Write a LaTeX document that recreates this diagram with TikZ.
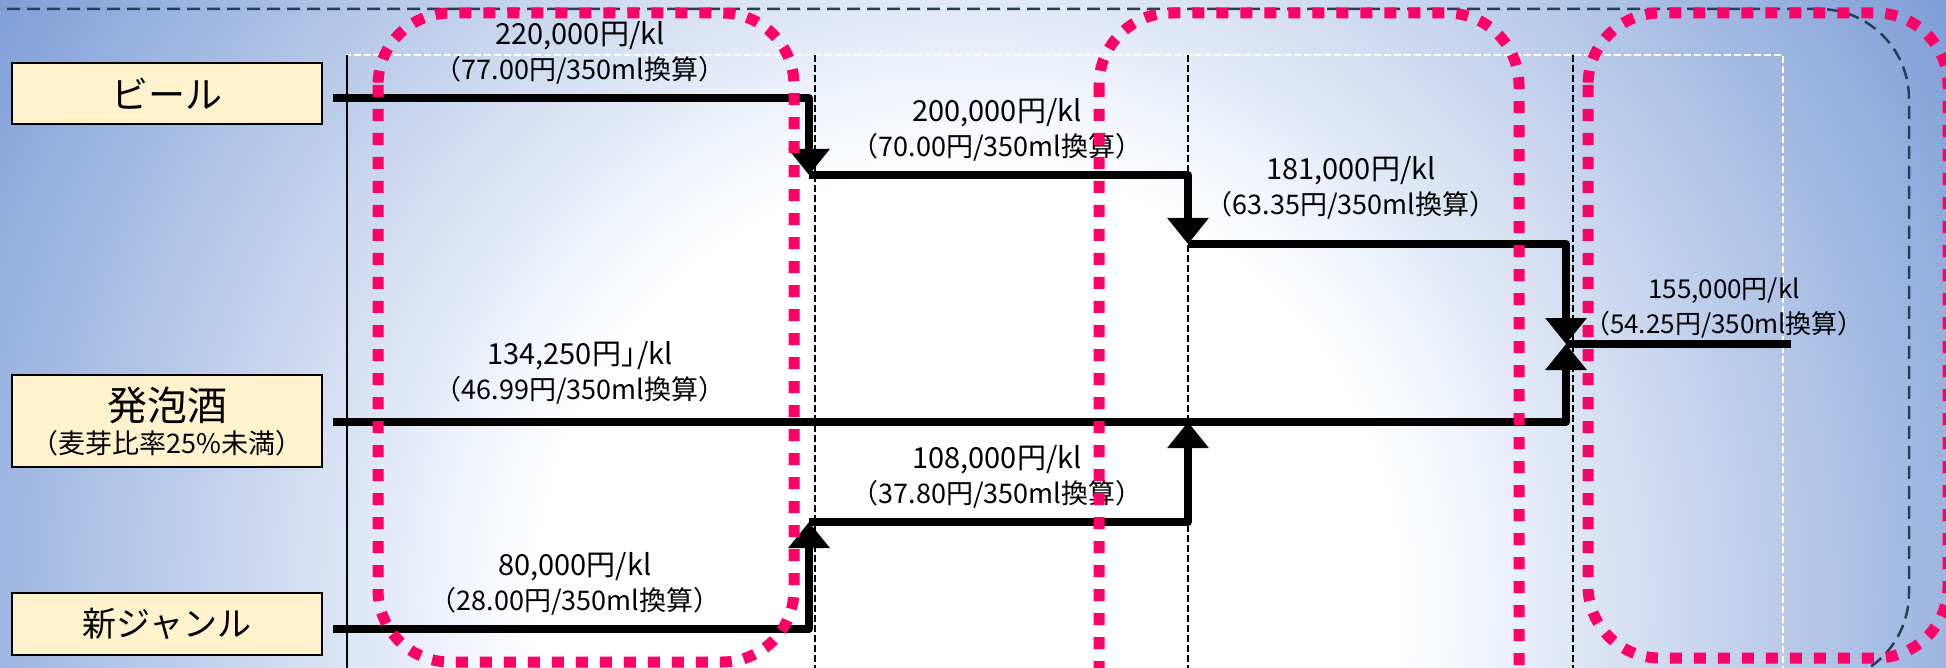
\documentclass[tikz,border=0pt]{standalone}
\usepackage{fontspec}
\setmainfont{Noto Sans CJK JP}
\usetikzlibrary{arrows.meta}
\definecolor{bgblue}{RGB}{125,157,215}
\definecolor{pinkc}{RGB}{255,0,102}
\definecolor{navyc}{RGB}{38,62,86}
\definecolor{creamc}{RGB}{255,242,204}
\pgfdeclareradialshading{bgshade}{\pgfpoint{0bp}{0bp}}{color(0bp)=(white); color(9bp)=(white); color(24bp)=(bgblue); color(50bp)=(bgblue)}
\newcommand{\pl}[2]{{\fontsize{29}{35}\selectfont #1}\\{\fontsize{27}{35}\selectfont #2}}
\tikzset{
  catbox/.style={draw=black, line width=2.5pt, fill=creamc, minimum width=310pt, inner sep=0pt, align=center},
  price/.style={font=\fontsize{26}{35}\selectfont, align=center, inner sep=0pt},
  conn/.style={line width=7.5pt, line join=round},
  arrowend/.style={-{Triangle[width=40pt,length=26pt]}},
  pinkdot/.style={draw=pinkc, line width=11pt, dash pattern=on 12pt off 12pt},
  navydash/.style={draw=navyc, line width=2.5pt, dash pattern=on 13pt off 7pt},
  whitedash/.style={draw=white, line width=2pt, dash pattern=on 7pt off 3pt},
  blackdash/.style={draw=black, line width=2pt, dash pattern=on 7pt off 3pt},
}
\begin{document}
\begin{tikzpicture}[x=1pt, y=-1pt]
\useasboundingbox (0,0) rectangle (1946,668);
% background
\begin{scope}
  \clip (0,0) rectangle (1946,668);
  \shade[shading=bgshade] (-232,-600) rectangle (2168,1800);
  \draw[navydash, rounded corners=90pt] (-100,9) rectangle (1909,683);
\end{scope}
% grid lines
\draw[whitedash] (347,668) -- (347,55) -- (1783,55) -- (1783,668);
\draw[blackdash] (815,55) -- (815,668);
\draw[blackdash] (1188,55) -- (1188,668);
\draw[blackdash] (1573,55) -- (1573,668);
\draw[black, line width=2pt] (347,55) -- (347,668);
% category boxes
\node[catbox, minimum height=61pt, font=\fontsize{37}{40}\selectfont] (beer) at (167,93.5) {ビール};
\node[catbox, minimum height=92pt, font=\fontsize{40}{33}\selectfont] (happo) at (167,421) {発泡酒\\{\fontsize{27}{33}\selectfont （麦芽比率25\%未満）}};
\node[catbox, minimum height=62pt, font=\fontsize{34}{40}\selectfont] (shin) at (167,624) {新ジャンル};
% price labels
\node[price] (p1) at (580,53) {\pl{220,000円/kl}{（77.00円/350ml換算）}};
\node[price] (p2) at (997,130) {\pl{200,000円/kl}{（70.00円/350ml換算）}};
\node[price] (p3) at (1351,188) {\pl{181,000円/kl}{（63.35円/350ml換算）}};
\node[price] (p4) at (1724,308) {155,000円/kl\\（54.25円/350ml換算）};
\node[price] (p5) at (580,373) {\pl{134,250円」\kern-0.45em/kl}{（46.99円/350ml換算）}};
\node[price] (p6) at (997,477) {\pl{108,000円/kl}{（37.80円/350ml換算）}};
\node[price] (p7) at (575,584) {\pl{80,000円/kl}{（28.00円/350ml換算）}};
% connector points
\coordinate (bS) at (333,98);
\coordinate (bC) at (809,98);
\coordinate (bT) at (809,175);
\coordinate (b2C) at (1188,175);
\coordinate (b2T) at (1188,244);
\coordinate (b3C) at (1566,244);
\coordinate (m) at (1566,344);
\coordinate (mE) at (1791,344);
\coordinate (hS) at (333,422);
\coordinate (hC) at (1566,422);
\coordinate (sS) at (333,629);
\coordinate (sC) at (809,629);
\coordinate (sT) at (809,522);
\coordinate (s2C) at (1188,522);
\coordinate (s2T) at (1188,422);
% connectors
\draw[conn, arrowend] (bS) -- (bC) -- (bT);
\draw[conn, arrowend] (bT) -- (b2C) -- (b2T);
\draw[conn, arrowend] (b2T) -- (b3C) -- (m);
\draw[conn, arrowend] (hS) -- (hC) -- (m);
\draw[conn] (m) -- (mE);
\draw[conn, arrowend] (sS) -- (sC) -- (sT);
\draw[conn, arrowend] (sT) -- (s2C) -- (s2T);
% pink dotted groups
\draw[pinkdot, rounded corners=72pt] (378,13) rectangle (794,662);
\draw[pinkdot, rounded corners=72pt] (1099,13) rectangle (1519,760);
\draw[pinkdot, rounded corners=72pt] (1588,13) rectangle (1948,658);
\end{tikzpicture}
\end{document}
